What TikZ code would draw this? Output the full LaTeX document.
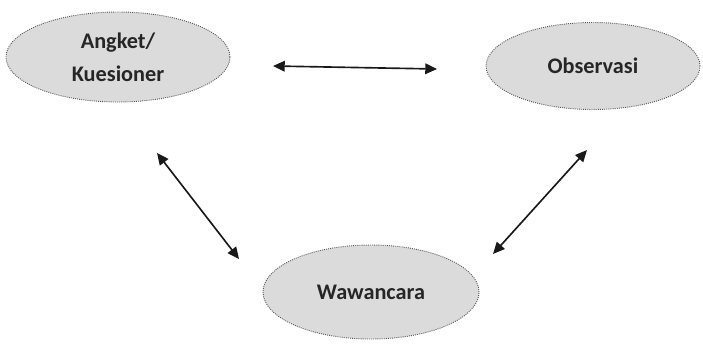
\documentclass[tikz,border=0pt]{standalone}
\usepackage{fontspec}
\setmainfont{Carlito}
\usetikzlibrary{arrows.meta,shapes.geometric}
\tikzset{
	method/.style={ellipse,draw=black!65,thick,densely dotted,fill=black!14,inner sep=0pt,
		font=\fontsize{19}{28}\selectfont\bfseries,text=black!85,align=center},
	link/.style={{Triangle[length=10pt,width=9pt]}-{Triangle[length=10pt,width=9pt]},line width=1.4pt,black!90}
}
\begin{document}
\begin{tikzpicture}[x=0.03cm,y=-0.03cm]
			% frame
			\useasboundingbox (0,0) rectangle (703,355);
			% methods
			\node[method,minimum width=6.72cm,minimum height=2.7cm] (angket) at (118,57) {Angket/\\Kuesioner};
			\node[method,minimum width=6.42cm,minimum height=2.61cm] (observasi) at (593,66) {Observasi};
			\node[method,minimum width=6.48cm,minimum height=2.82cm] (wawancara) at (371,292) {Wawancara};
			% arrow ends
			\coordinate (ao) at (273,66);
			\coordinate (oa) at (437,69);
			\coordinate (aw) at (157,153);
			\coordinate (wa) at (239,259);
			\coordinate (ow) at (587,150);
			\coordinate (wo) at (493,254);
			% links
			\draw[link] (ao) -- (oa);
			\draw[link] (aw) -- (wa);
			\draw[link] (ow) -- (wo);
\end{tikzpicture}
\end{document}
